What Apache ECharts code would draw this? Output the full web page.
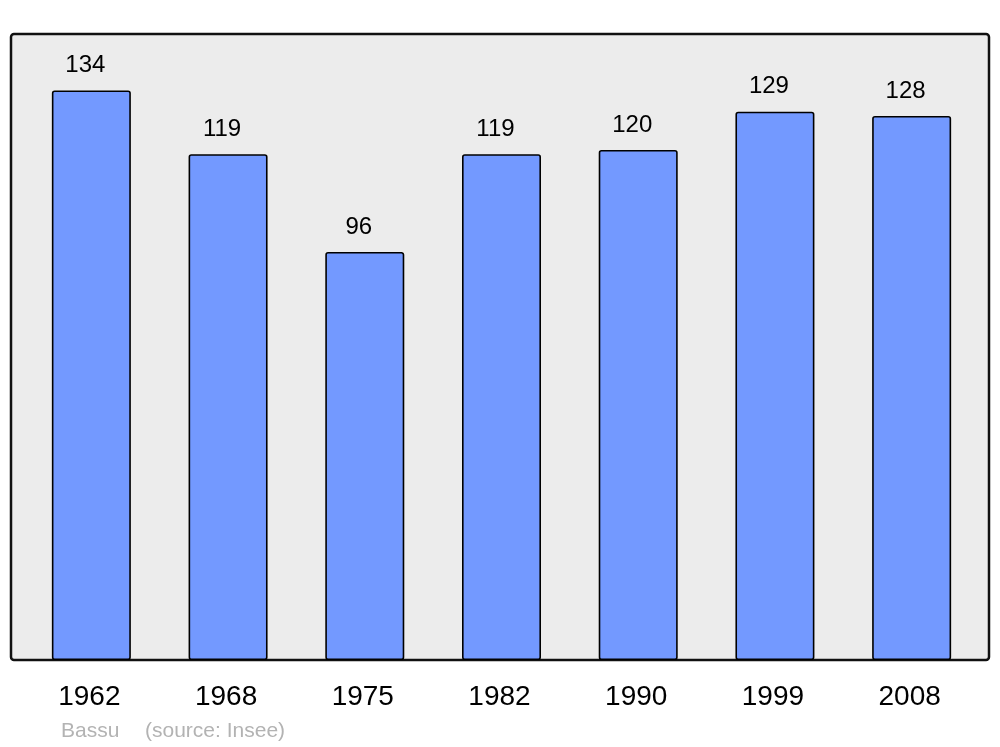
<!DOCTYPE html>
<html>
<head>
<meta charset="utf-8">
<script src="https://cdn.jsdelivr.net/npm/echarts@6/dist/echarts.min.js"></script>
<style>
  html, body { margin: 0; padding: 0; background: #fff; }
  #chart { width: 1000px; height: 747px; }
</style>
</head>
<body>
<div id="chart"></div>
<script>
// population by census year
const years = ['1962', '1968', '1975', '1982', '1990', '1999', '2008']
const population = [134, 119, 96, 119, 120, 129, 128]
const placeName = 'Bassu'
const sourceText = '(source: Insee)'

const chart = echarts.init(document.getElementById('chart'))
const font = '"Liberation Sans", Arial, sans-serif'

chart.setOption({
  animation: false,
  title: [{
    text: placeName,
    left: 61,
    top: 721,
    padding: 0,
    textStyle: { fontFamily: font, fontSize: 21, fontWeight: 'normal', color: '#b3b3b3' }
  }, {
    text: sourceText,
    left: 145,
    top: 721,
    padding: 0,
    textStyle: { fontFamily: font, fontSize: 21, fontWeight: 'normal', color: '#b3b3b3' }
  }],
  graphic: [{
    // plot frame
    type: 'rect',
    z: -10,
    silent: true,
    shape: { x: 11, y: 34, width: 978, height: 626, r: 3 },
    style: { fill: '#ececec', stroke: '#111', lineWidth: 2.5 }
  }],
  grid: {
    left: 23,
    right: 20,
    top: 34,
    bottom: 87
  },
  xAxis: {
    type: 'category',
    data: years,
    axisLine: { show: false },
    axisTick: { show: false },
    axisLabel: {
      margin: 23,
      fontFamily: font,
      fontSize: 28,
      color: '#000',
      padding: [0, 4, 0, 0]
    }
  },
  yAxis: {
    type: 'value',
    min: 0,
    max: 147.3,
    show: false,
    splitLine: { show: false }
  },
  series: [{
    type: 'bar',
    data: population,
    barWidth: 79,
    itemStyle: {
      color: '#7399ff',
      borderColor: '#000',
      borderWidth: 1.6,
      borderRadius: 2
    },
    label: {
      show: true,
      position: 'top',
      distance: 13,
      offset: [-6, 0],
      fontFamily: font,
      fontSize: 24,
      color: '#000'
    }
  }]
})
</script>
</body>
</html>
